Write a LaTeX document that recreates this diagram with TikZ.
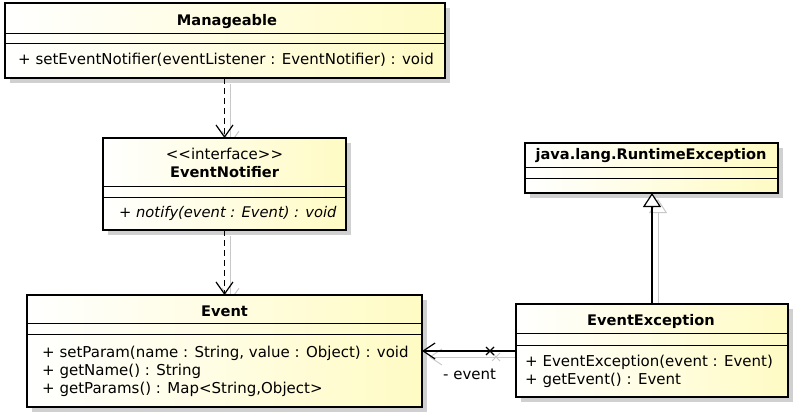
\documentclass[tikz,border=0pt]{standalone}
\usepackage{fontspec}
\setmainfont{DejaVu Sans}
\usetikzlibrary{arrows.meta,shadows,calc}
\definecolor{umlyellow}{RGB}{255,251,196}
\definecolor{shadowgray}{RGB}{208,208,208}
\definecolor{ghostgray}{RGB}{200,200,200}
\tikzset{
  classbox/.style={draw=black, line width=2.6pt, anchor=north west, inner sep=0pt, outer sep=0pt,
    left color=white, right color=umlyellow, shading angle=90,
    drop shadow={shadow xshift=5pt, shadow yshift=-5pt, fill=shadowgray, opacity=1}},
  divider/.style={line width=0.9pt, black},
  titletext/.style={anchor=base, inner sep=0pt, font=\fontsize{14.6}{18}\selectfont\bfseries},
  stereotext/.style={anchor=base, inner sep=0pt, font=\fontsize{15}{18}\selectfont},
  optext/.style={anchor=base west, inner sep=0pt, font=\fontsize{15}{18}\selectfont},
  italictext/.style={anchor=base west, inner sep=0pt, font=\fontsize{14.7}{18}\selectfont\itshape},
  dependency/.style={line width=1.2pt, dash pattern=on 6pt off 4pt, -{Straight Barb[length=12pt,width=17pt]}},
  assoc/.style={line width=1.2pt, -{Straight Barb[length=12pt,width=16pt]}},
  generalization/.style={line width=1.2pt, -{Triangle[open,fill=white,length=14pt,width=18pt]}},
  ghost/.style={ghostgray, line width=1pt},
}
\begin{document}
\begin{tikzpicture}[x=1pt,y=-1pt]
\useasboundingbox (0,0) rectangle (795,417);

% ghost (shadow) connectors
\begin{scope}[shift={(6,6)}, ghost]
  \draw[-{Straight Barb[length=12pt,width=17pt]}] (224.5,78) -- (224.5,138);
  \draw[-{Straight Barb[length=12pt,width=17pt]}] (224.5,230) -- (224.5,295);
  \draw[-{Straight Barb[length=12pt,width=16pt]}] (516,351) -- (423,351);
  \draw (486,347) -- (494,355) (486,355) -- (494,347);
  \draw[-{Triangle[open,length=14pt,width=18pt]}] (652,304) -- (652,193);
\end{scope}

% classes
\node[classbox, minimum width=440pt, minimum height=75pt] (mg) at (5,3) {};
\draw[divider] (mg.west |- 0,33) -- (mg.east |- 0,33);
\draw[divider] (mg.west |- 0,43) -- (mg.east |- 0,43);
\node[titletext] (mgtitle) at (227,26) {Manageable};
\node[optext] (mgop) at (18,65) {+ setEventNotifier(eventListener : EventNotifier) : void};

\node[classbox, minimum width=243pt, minimum height=92pt] (en) at (103,138) {};
\draw[divider] (en.west |- 0,186) -- (en.east |- 0,186);
\draw[divider] (en.west |- 0,197) -- (en.east |- 0,197);
\node[stereotext] (enstereo) at (224.5,159) {<{}<interface>{}>};
\node[titletext] (entitle) at (224.5,178) {EventNotifier};
\node[italictext] (enop) at (119,217) {+ notify(event : Event) : void};

\node[classbox, minimum width=395pt, minimum height=112pt] (ev) at (27,295) {};
\draw[divider] (ev.west |- 0,323) -- (ev.east |- 0,323);
\draw[divider] (ev.west |- 0,334) -- (ev.east |- 0,334);
\node[titletext] (evtitle) at (224.5,316.5) {Event};
\node[optext] (evop1) at (42,357) {+ setParam(name : String, value : Object) : void};
\node[optext] (evop2) at (42,375) {+ getName() : String};
\node[optext] (evop3) at (42,393) {+ getParams() : Map<String,Object>};

\node[classbox, minimum width=253pt, minimum height=50pt] (re) at (525,143) {};
\draw[divider] (re.west |- 0,167) -- (re.east |- 0,167);
\draw[divider] (re.west |- 0,178) -- (re.east |- 0,178);
\node[titletext] (retitle) at (651,160) {java.lang.RuntimeException};

\node[classbox, minimum width=272pt, minimum height=93pt] (ee) at (516,304) {};
\draw[divider] (ee.west |- 0,333) -- (ee.east |- 0,333);
\draw[divider] (ee.west |- 0,345) -- (ee.east |- 0,345);
\node[titletext] (eetitle) at (651,325.5) {EventException};
\node[optext] (eeop1) at (525,366) {+ EventException(event : Event)};
\node[optext] (eeop2) at (525,384) {+ getEvent() : Event};

% connectors
\draw[dependency] (en.north |- mg.south) -- (en.north);
\draw[dependency] (en.south) -- (ev.north);
\draw[assoc] (ee.west |- 0,351) -- (ev.east |- 0,351);
\coordinate (nav) at (490,351);
\draw[line width=1.2pt] (nav) +(-4,-4) -- +(4,4) (nav) +(-4,4) -- +(4,-4);
\node[optext] (evlabel) at (443,379) {- event};
\draw[generalization] (ee.north) -- (ee.north |- re.south);
\end{tikzpicture}
\end{document}
